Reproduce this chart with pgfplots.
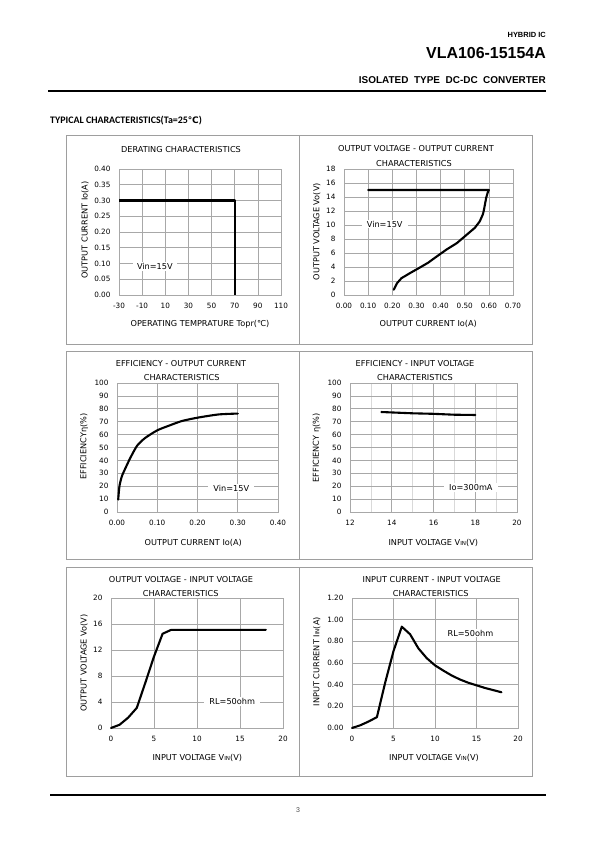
\documentclass[border=0pt]{standalone}
\usepackage{pgfplots}
\pgfplotsset{compat=1.18}
\usepackage{fontspec}
\setmainfont{DejaVu Sans}
\newfontfamily\hdr{Liberation Sans}
\newfontfamily\calib{Carlito}
\newfontfamily\dv{DejaVu Sans}
\definecolor{gridc}{gray}{0.66}
\definecolor{boxc}{gray}{0.62}
\newcommand{\cf}{\fontsize{7.3}{8}\selectfont}
\newcommand{\lf}{\fontsize{8.2}{9}\selectfont}
\newcommand{\sub}[1]{{\fontsize{5.6}{6}\selectfont #1}}
\pgfplotsset{
  dsheet/.style={
    scale only axis,
    axis line style={draw=gridc},
    grid=major,
    major grid style={draw=gridc, line width=0.6pt},
    minor grid style={draw=gray!30, line width=0.5pt},
    tick style={draw=none},
    ticklabel style={font=\cf},
    xticklabel style={yshift=-5bp},
    yticklabel style={xshift=-5bp},
    /pgf/number format/assume math mode=true,
    clip=false, no markers,
  },
  curve/.style={black, line width=2.1bp, line join=round, line cap=round, mark=none},
  twodec/.style={/pgf/number format/.cd, fixed, fixed zerofill, precision=2},
}
\begin{document}
\begin{tikzpicture}[x=1bp,y=1bp]
\path[fill=white] (0,0) rectangle (595,842);

% header
\node[anchor=east, font=\hdr\bfseries\fontsize{7.5}{9}\selectfont, inner sep=0] at (546,807) {HYBRID IC};
\node[anchor=east, font=\hdr\bfseries\fontsize{16}{18}\selectfont, inner sep=0] at (546,789) {VLA106-15154A};
\node[anchor=east, font=\hdr\bfseries\fontsize{10}{11}\selectfont, inner sep=0] at (546,762) {ISOLATED\ \ TYPE\ \ DC-DC\ \ CONVERTER};
\draw[line width=2bp] (48,751) -- (546,751);
\node[anchor=west, font=\calib\bfseries\fontsize{10}{12}\selectfont, inner sep=0] at (50,721) {TYPICAL CHARACTERISTICS(Ta=25{\dv\bfseries\fontsize{9}{10}\selectfont ℃})};
\draw[line width=2bp] (50,47) -- (546,47);
\node[font=\hdr\fontsize{7}{8}\selectfont, text=black!70] at (298,32) {3};

% panel boxes
\draw[boxc, line width=0.7bp] (66,498) rectangle (299,707);
\draw[boxc, line width=0.7bp] (299,498) rectangle (532,707);
\draw[boxc, line width=0.7bp] (66,283) rectangle (299,491);
\draw[boxc, line width=0.7bp] (299,283) rectangle (532,491);
\draw[boxc, line width=0.7bp] (66,66) rectangle (299,275);
\draw[boxc, line width=0.7bp] (299,66) rectangle (532,275);

% ---------- Plot 1: derating
\begin{axis}[dsheet, at={(119bp,547bp)}, anchor=south west, width=162bp, height=126bp,
  xmin=-30, xmax=110, ymin=0, ymax=0.40,
  xtick={-30,-10,10,30,50,70,90,110},
  ytick={0,0.05,...,0.41},
  yticklabel style={twodec}]
\addplot[curve, line cap=butt] coordinates {(-30,0.30) (70,0.30) (70,0)};
\node[fill=white, font=\lf, inner xsep=4pt, inner ysep=1pt] at (axis cs:1,0.09) {Vin=15V};
\end{axis}
\node[font=\lf] at (181,692.7) {DERATING CHARACTERISTICS};
\node[font=\lf] at (200,517.7) {OPERATING TEMPRATURE Topr({\dv ℃})};
\node[font=\lf, rotate=90] at (85,612) {OUTPUT CURRENT Io(A)};

% ---------- Plot 2: Vo - Io
\begin{axis}[dsheet, at={(344bp,547bp)}, anchor=south west, width=169bp, height=126bp,
  xmin=0, xmax=0.70, ymin=0, ymax=18,
  xtick={0,0.1,...,0.71}, ytick={0,2,...,18},
  xticklabel style={twodec}]
\addplot[curve] coordinates {(0.10,15) (0.60,15) (0.595,14.6) (0.589,13.9) (0.582,12.6) (0.578,11.9) (0.575,11.5) (0.562,10.5) (0.542,9.6) (0.508,8.6) (0.467,7.4) (0.425,6.5) (0.384,5.5) (0.348,4.6) (0.313,3.9) (0.272,3.1) (0.238,2.4) (0.220,1.7) (0.206,0.76)};
\node[fill=white, font=\lf, inner xsep=5pt, inner ysep=1pt] at (axis cs:0.1686,10.1) {Vin=15V};
\end{axis}
\node[font=\lf] at (416,693.7) {OUTPUT VOLTAGE - OUTPUT CURRENT};
\node[font=\lf] at (414,678.7) {CHARACTERISTICS};
\node[font=\lf] at (428.3,517.7) {OUTPUT CURRENT Io(A)};
\node[font=\lf, rotate=90] at (316.7,610.3) {OUTPUT VOLTAGE Vo(V)};

% ---------- Plot 3: efficiency - Io
\begin{axis}[dsheet, at={(117bp,330bp)}, anchor=south west, width=161bp, height=129bp,
  xmin=0, xmax=0.40, ymin=0, ymax=100,
  xtick={0,0.1,...,0.41}, ytick={0,10,...,100},
  xticklabel style={twodec}]
\addplot[curve, smooth, tension=0.4] coordinates {(0.003,9.6) (0.006,19.9) (0.012,27.6) (0.021,34) (0.033,41.9) (0.05,51.4) (0.07,57.4) (0.1,63.3) (0.129,66.9) (0.161,70.5) (0.2,73.1) (0.252,75.6) (0.3,76.3)};
\node[fill=white, font=\lf, inner xsep=5pt, inner ysep=1pt] at (axis cs:0.284,18.6) {Vin=15V};
\end{axis}
\node[font=\lf] at (181,478) {EFFICIENCY - OUTPUT CURRENT};
\node[font=\lf] at (181.7,464.7) {CHARACTERISTICS};
\node[font=\lf] at (193.3,299.3) {OUTPUT CURRENT Io(A)};
\node[font=\lf, rotate=90] at (84,395.3) {EFFICIENCYη(\%)};

% ---------- Plot 4: efficiency - Vin
\begin{axis}[dsheet, at={(350bp,330bp)}, anchor=south west, width=167bp, height=129bp,
  xmin=12, xmax=20, ymin=0, ymax=100,
  xtick={12,14,...,20}, ytick={0,10,...,100},
  minor x tick num=1, xminorgrids]
\addplot[curve] coordinates {(13.5,77.5) (15,76.5) (16,76.1) (17,75.4) (18,75.2)};
\node[fill=white, font=\lf, inner xsep=5pt, inner ysep=1pt] at (axis cs:17.79,19) {Io=300mA};
\end{axis}
\node[font=\lf] at (415,478) {EFFICIENCY - INPUT VOLTAGE};
\node[font=\lf] at (415,464.7) {CHARACTERISTICS};
\node[font=\lf] at (433.3,299.3) {INPUT VOLTAGE V\sub{IN}(V)};
\node[font=\lf, rotate=90] at (316.7,394) {EFFICIENCY η(\%)};

% ---------- Plot 5: Vo - Vin
\begin{axis}[dsheet, at={(111bp,114bp)}, anchor=south west, width=172bp, height=130bp,
  xmin=0, xmax=20, ymin=0, ymax=20,
  xtick={0,5,...,20}, ytick={0,4,...,20}]
\addplot[curve] coordinates {(0,0) (1,0.5) (2,1.6) (3,3.1) (4,7.0) (5,11.0) (6,14.5) (7,15.1) (18,15.1)};
\node[fill=white, font=\lf, inner xsep=5pt, inner ysep=1pt] at (axis cs:14.1,4.1) {RL=50ohm};
\end{axis}
\node[font=\lf] at (181,262) {OUTPUT VOLTAGE - INPUT VOLTAGE};
\node[font=\lf] at (180.7,248) {CHARACTERISTICS};
\node[font=\lf] at (197.3,83.7) {INPUT VOLTAGE V\sub{IN}(V)};
\node[font=\lf, rotate=90] at (84,179) {OUTPUT VOLTAGE Vo(V)};

% ---------- Plot 6: Iin - Vin
\begin{axis}[dsheet, at={(352bp,114bp)}, anchor=south west, width=166bp, height=130bp,
  xmin=0, xmax=20, ymin=0, ymax=1.20,
  xtick={0,5,...,20}, ytick={0,0.2,...,1.21},
  yticklabel style={twodec}]
\addplot[curve] coordinates {(0,0) (1,0.025) (2,0.06) (3,0.10) (4,0.42) (5,0.71) (6,0.935) (7,0.865) (8,0.735) (9,0.645) (10,0.578) (11,0.53) (12,0.485) (13,0.448) (14,0.418) (15,0.394) (16,0.37) (17,0.35) (18,0.33)};
\node[fill=white, font=\lf, inner xsep=4pt, inner ysep=1pt] at (axis cs:14.27,0.877) {RL=50ohm};
\end{axis}
\node[font=\lf] at (431.7,262) {INPUT CURRENT - INPUT VOLTAGE};
\node[font=\lf] at (430.7,248) {CHARACTERISTICS};
\node[font=\lf] at (434,83.7) {INPUT VOLTAGE V\sub{IN}(V)};
\node[font=\lf, rotate=90] at (316.7,180.3) {INPUT CURRENT I\sub{IN}(A)};
\end{tikzpicture}
\end{document}
